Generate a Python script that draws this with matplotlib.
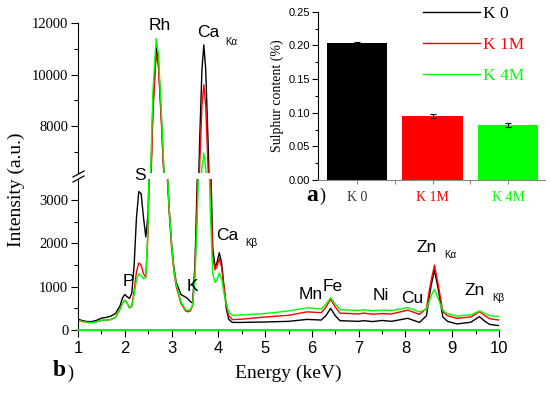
import matplotlib
matplotlib.use("Agg")
import matplotlib.pyplot as plt
from matplotlib.ticker import MultipleLocator
from matplotlib.lines import Line2D

# ---------------- data ----------------
energy = [1.0, 1.1, 1.2, 1.3, 1.4, 1.5, 1.6, 1.7, 1.8, 1.9, 1.95, 2.0, 2.05, 2.1, 2.15,
          2.2, 2.25, 2.3, 2.35, 2.4, 2.45, 2.5, 2.55, 2.6, 2.67, 2.72, 2.78, 2.85, 2.9,
          2.95, 3.0, 3.05, 3.1, 3.2, 3.3, 3.35, 3.4, 3.45, 3.5, 3.55, 3.6, 3.65, 3.69,
          3.73, 3.78, 3.83, 3.88, 3.93, 3.97, 4.02, 4.07, 4.12, 4.17, 4.22, 4.3, 4.5,
          5.0, 5.5, 5.9, 6.2, 6.3, 6.4, 6.5, 6.6, 7.0, 7.1, 7.3, 7.5, 7.7, 8.05, 8.3,
          8.45, 8.5, 8.55, 8.62, 8.7, 8.8, 8.9, 9.1, 9.4, 9.58, 9.7, 9.8, 10.0]

k0 = [250, 215, 195, 195, 225, 275, 290, 320, 380, 560, 740, 820, 770, 730, 850,
      1500, 2600, 3200, 3150, 2600, 2150, 2700, 5600, 8700, 11050, 10450, 8400, 5600, 3800,
      2800, 2000, 1450, 1100, 820, 760, 720, 660, 620, 1500, 3500, 7400, 10200, 11150,
      10200, 7400, 4200, 1900, 1460, 1550, 1785, 1550, 1000, 500, 250, 175, 175,
      185, 200, 245, 230, 330, 500, 330, 215, 200, 215, 195, 220, 200, 270, 175,
      330, 700, 1030, 1385, 950, 300, 200, 140, 180, 310, 200, 130, 100]

k1m = [225, 195, 175, 170, 190, 225, 230, 240, 290, 480, 620, 690, 620, 510, 560,
       900, 1350, 1550, 1500, 1300, 1220, 2300, 5200, 8400, 10800, 10300, 8200, 5500, 3700,
       2700, 1900, 1350, 1000, 620, 440, 420, 440, 560, 1300, 3000, 6400, 8800, 9600,
       8800, 6400, 3600, 1700, 1390, 1460, 1650, 1450, 1000, 600, 330, 240, 250,
       300, 340, 420, 400, 530, 710, 530, 390, 370, 390, 365, 380, 370, 460, 360,
       500, 850, 1150, 1500, 1050, 420, 330, 270, 300, 425, 330, 260, 230]

k4m = [225, 195, 175, 170, 190, 225, 230, 240, 290, 480, 620, 690, 620, 510, 540,
       820, 1150, 1300, 1260, 1180, 1220, 2500, 6000, 9300, 11400, 10800, 8600, 5800, 3900,
       2800, 2000, 1400, 1050, 660, 470, 450, 470, 580, 1200, 2600, 4700, 6400, 6950,
       6400, 4700, 2700, 1300, 1100, 1150, 1320, 1180, 850, 600, 420, 340, 350,
       380, 440, 515, 480, 600, 745, 600, 470, 450, 470, 445, 460, 450, 520, 420,
       480, 640, 800, 940, 720, 450, 380, 320, 350, 440, 380, 330, 310]

series_labels = ["K 0", "K 1M", "K 4M"]
series_colors = ["#000000", "#ff0000", "#00ff00"]

sulphur = [0.203, 0.095, 0.082]
sulphur_err = [0.002, 0.003, 0.003]

peak_labels = [  # (text, energy, intensity, subscript)
    ("P", 1.95, 1130, ""),
    ("K", 3.33, 1016, ""),
    ("Ca", 3.95, 2194, "K\u03b2"),
    ("Mn", 5.72, 831, ""),
    ("Fe", 6.235, 1016, ""),
    ("Ni", 7.30, 808, ""),
    ("Cu", 7.90, 739, ""),
    ("Zn", 8.24, 1917, "K\u03b1"),
    ("Zn", 9.27, 924, "K\u03b2"),
]

W, H = 550, 397
SERIF = "Liberation Serif"
SANS = "Liberation Sans"

fig = plt.figure(figsize=(W / 100, H / 100), dpi=100)

def fx(px):
    return px / W

def fy(py):
    return 1 - py / H

left, right = fx(78), fx(499)
ax_lo = fig.add_axes([left, fy(330), right - left, fy(179) - fy(330)])
ax_hi = fig.add_axes([left, fy(173), right - left, fy(23) - fy(173)])
ax_hi.patch.set_visible(False)

for ax in (ax_lo, ax_hi):
    for y, c, lab in zip((k0, k1m, k4m), series_colors, series_labels):
        ax.plot(energy, y, color=c, lw=1.0, label=lab)
    ax.set_xlim(1, 10)
    ax.spines["top"].set_visible(False)
    ax.spines["right"].set_visible(False)
    ax.yaxis.set_minor_locator(MultipleLocator(500 if ax is ax_lo else 1000))
    ax.tick_params(axis="y", which="major", direction="out", length=5, width=0.8,
                   labelsize=10.5, pad=2)
    ax.tick_params(axis="y", which="minor", direction="out", length=3, width=0.8)

ax_lo.set_ylim(0, 3490)
ax_lo.set_yticks([0, 1000, 2000, 3000])
ax_hi.set_ylim(6175, 12000)
ax_hi.set_yticks([8000, 10000, 12000])
ax_hi.spines["bottom"].set_visible(False)
ax_hi.tick_params(axis="x", which="both", bottom=False, labelbottom=False)
for ax in (ax_lo, ax_hi):
    for t in ax.get_yticklabels():
        t.set_fontfamily(SERIF)

ax_lo.xaxis.set_major_locator(MultipleLocator(1))
ax_lo.xaxis.set_minor_locator(MultipleLocator(0.5))
ax_lo.tick_params(axis="x", which="major", direction="out", length=5, width=0.8,
                  labelsize=12, pad=3)
ax_lo.tick_params(axis="x", which="minor", direction="out", length=3, width=0.8)
for t in ax_lo.get_xticklabels():
    t.set_fontfamily(SANS)
ax_lo.axhline(0, color="#00ff00", lw=1.5, zorder=5, clip_on=False)

ax_lo.set_xlabel("Energy (keV)", fontfamily=SERIF, fontsize=14, labelpad=6)
fig.text(fx(16), fy(190), "Intensity (a.u.)", rotation=90, fontfamily=SERIF,
         fontsize=14, ha="center", va="center")

# break marks
for dy in (0, 5):
    fig.add_artist(Line2D([fx(73), fx(84)], [fy(177 + dy), fy(171 + dy)],
                          color="black", lw=0.9))

# peak annotations
ax_hi.text(2.75, 11922, "Rh", fontfamily=SANS, fontsize=12.5, ha="center", va="center")
ax_hi.text(3.79, 11650, "Ca", fontfamily=SANS, fontsize=12.5, ha="center", va="center")
ax_hi.text(4.14, 11262, "K\u03b1", fontfamily=SANS, fontsize=7, ha="left", va="center")
ax_lo.text(2.32, 3580, "S", fontfamily=SANS, fontsize=12.5, ha="center", va="center",
           zorder=6)
for txt, e, i, sub in peak_labels:
    t = ax_lo.text(e, i, txt, fontfamily=SANS, fontsize=12.5, ha="left", va="center")
    if sub:
        ax_lo.annotate(sub, xy=(1, 0.5), xycoords=t, xytext=(5, -6),
                       textcoords="offset points", fontfamily=SANS, fontsize=7,
                       ha="left", va="center")

fig.text(fx(53), fy(371), "b", fontfamily=SERIF, fontweight="bold", fontsize=17,
         ha="left", va="center")
fig.text(fx(67), fy(373), ")", fontfamily=SERIF, fontsize=13, ha="left", va="center")

# ---------------- inset ----------------
ax_in = fig.add_axes([fx(318), fy(180), fx(545) - fx(318), fy(11.7) - fy(180)])
xpos = list(range(len(sulphur)))
ax_in.bar(xpos, sulphur, width=0.8, color=series_colors, edgecolor="none", zorder=2,
          yerr=sulphur_err, error_kw=dict(ecolor="black", elinewidth=0.8, capsize=2,
                                          capthick=0.8))
ax_in.set_xlim(-0.52, 2.49)
ax_in.set_ylim(0, 0.25)
ax_in.spines["top"].set_visible(False)
ax_in.spines["right"].set_visible(False)
ax_in.spines["bottom"].set_color("#888888")
ax_in.set_yticks([0, 0.05, 0.10, 0.15, 0.20, 0.25])
ax_in.set_yticklabels(["0.00", "0.05", "0.10", "0.15", "0.20", "0.25"])
ax_in.yaxis.set_minor_locator(MultipleLocator(0.025))
ax_in.set_xticks(xpos)
ax_in.set_xticks([0.5, 1.5], minor=True)
ax_in.set_xticklabels(series_labels)
ax_in.tick_params(axis="y", which="major", direction="out", length=4, width=0.8,
                  labelsize=8, pad=2)
ax_in.tick_params(axis="y", which="minor", direction="out", length=2, width=0.8)
ax_in.tick_params(axis="x", which="both", direction="out", length=3, width=0.8,
                  colors="#888888", labelsize=10, pad=5)
for t in ax_in.get_yticklabels():
    t.set_fontfamily(SANS)
for t, c in zip(ax_in.get_xticklabels(), series_colors):
    t.set_fontfamily(SERIF)
    t.set_color(c if c != "#000000" else "#333333")
ax_in.set_ylabel("Sulphur content (%)", fontfamily=SERIF, fontsize=10, labelpad=3)

fig.text(fx(306), fy(195), "a", fontfamily=SERIF, fontweight="bold", fontsize=17,
         ha="left", va="center")
fig.text(fx(319), fy(196), ")", fontfamily=SERIF, fontsize=13, ha="left", va="center")

# legend
handles = ax_lo.get_lines()[:3]
leg = fig.legend(handles, series_labels, loc="upper left",
                 bbox_to_anchor=(fx(423), fy(6)), frameon=False, borderpad=0,
                 borderaxespad=0, handlelength=3.3, handletextpad=0.15,
                 labelspacing=0.85, prop={"family": SERIF, "size": 12.5})
for t, c in zip(leg.get_texts(), series_colors):
    t.set_color(c)

fig.savefig("out.png", dpi=100)
